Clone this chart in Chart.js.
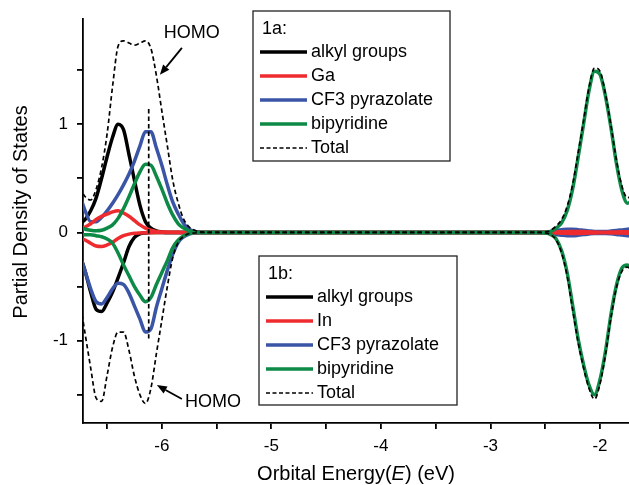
<!DOCTYPE html>
<html lang="en">
<head>
<meta charset="UTF-8">
<title>Partial Density of States – 1a / 1b</title>
<style>
  html, body { margin: 0; padding: 0; background: #fff; }
  #wrap { width: 629px; height: 485px; }
</style>
</head>
<body>
<div id="wrap"><canvas id="pdos" width="629" height="485"></canvas></div>
<script src="https://cdn.jsdelivr.net/npm/chart.js"></script>
<script>
// orbital energies (eV) shared by every series
const energy = [
  -6.75, -6.70, -6.65, -6.60, -6.55, -6.50, -6.45, -6.40, -6.35, -6.30, -6.25, -6.20,
  -6.15, -6.10, -6.05, -6.00, -5.95, -5.90, -5.85, -5.80, -5.75, -5.70, -5.65, -5.60,
  -5.50, -2.60,
  -2.55, -2.50, -2.45, -2.40, -2.35, -2.30, -2.25, -2.20, -2.15, -2.10, -2.05, -2.00,
  -1.95, -1.90, -1.85, -1.80, -1.75, -1.70
];

// 1a (upper half)
const alkyl1a = [0.08, 0.12, 0.2, 0.32, 0.5, 0.7, 0.88, 1.0, 0.95, 0.72, 0.48, 0.25,
  0.1, 0.04, 0.015, 0.005, 0, 0, 0, 0, 0, 0, 0, 0,
  0, 0,
  0, 0, 0, 0, 0, 0, 0, 0, 0, 0, 0, 0, 0, 0, 0, 0, 0, 0];
const ga1a = [0.03, 0.05, 0.08, 0.12, 0.15, 0.17, 0.19, 0.2, 0.18, 0.15, 0.11, 0.07,
  0.04, 0.02, 0.01, 0.005, 0.003, 0.002, 0.001, 0, 0, 0, 0, 0,
  0, 0,
  0, 0.001, 0.003, 0.005, 0.007, 0.008, 0.009, 0.009, 0.008, 0.006, 0.004, 0.003,
  0.003, 0.004, 0.005, 0.006, 0.007, 0.008];
const cf3_1a = [0.35, 0.2, 0.1, 0.1, 0.14, 0.2, 0.27, 0.35, 0.44, 0.54, 0.66, 0.8,
  0.93, 0.93, 0.78, 0.62, 0.44, 0.28, 0.17, 0.08, 0.03, 0.01, 0.003, 0,
  0, 0,
  0, 0.002, 0.01, 0.018, 0.025, 0.03, 0.03, 0.026, 0.02, 0.014, 0.01, 0.01,
  0.01, 0.013, 0.018, 0.024, 0.03, 0.034];
const bipy1a = [0.05, 0.03, 0.02, 0.015, 0.02, 0.04, 0.07, 0.13, 0.22, 0.33, 0.45, 0.56,
  0.63, 0.62, 0.52, 0.4, 0.27, 0.16, 0.08, 0.04, 0.015, 0.005, 0, 0,
  0, 0,
  0, 0.003, 0.01, 0.04, 0.09, 0.2, 0.4, 0.69, 1.0, 1.31, 1.49, 1.46,
  1.26, 0.97, 0.64, 0.39, 0.27, 0.3];
const total1a = [0.42, 0.33, 0.3, 0.4, 0.6, 0.91, 1.35, 1.72, 1.77, 1.75, 1.73, 1.75,
  1.77, 1.7, 1.45, 1.12, 0.8, 0.48, 0.27, 0.12, 0.05, 0.02, 0.005, 0,
  0, 0,
  0, 0.005, 0.02, 0.06, 0.12, 0.24, 0.44, 0.73, 1.03, 1.34, 1.52, 1.49,
  1.28, 0.99, 0.67, 0.43, 0.32, 0.35];

// 1b (lower half)
const alkyl1b = [-0.2, -0.36, -0.55, -0.71, -0.73, -0.65, -0.55, -0.42, -0.28, -0.13, -0.045, -0.012,
  -0.004, 0, 0, 0, 0, 0, 0, 0, 0, 0, 0, 0,
  0, 0,
  0, 0, 0, 0, 0, 0, 0, 0, 0, 0, 0, 0, 0, 0, 0, 0, 0, 0];
const in1b = [-0.05, -0.07, -0.1, -0.125, -0.13, -0.115, -0.09, -0.055, -0.03, -0.015, -0.008, -0.005,
  -0.003, -0.002, -0.001, 0, 0, 0, 0, 0, 0, 0, 0, 0,
  0, 0,
  0, -0.001, -0.003, -0.005, -0.007, -0.008, -0.009, -0.009, -0.008, -0.006, -0.004, -0.003,
  -0.003, -0.004, -0.005, -0.006, -0.007, -0.008];
const cf3_1b = [-0.2, -0.36, -0.52, -0.64, -0.66, -0.6, -0.52, -0.47, -0.48, -0.56, -0.68, -0.8,
  -0.92, -0.89, -0.69, -0.52, -0.35, -0.2, -0.09, -0.04, -0.015, -0.005, 0, 0,
  0, 0,
  0, -0.002, -0.01, -0.018, -0.025, -0.03, -0.03, -0.026, -0.02, -0.014, -0.01, -0.01,
  -0.01, -0.013, -0.018, -0.024, -0.03, -0.034];
const bipy1b = [-0.02, -0.02, -0.02, -0.03, -0.04, -0.06, -0.1, -0.19, -0.3, -0.4, -0.5, -0.58,
  -0.64, -0.6, -0.48, -0.37, -0.26, -0.14, -0.07, -0.03, -0.01, 0, 0, 0,
  0, 0,
  0, -0.005, -0.02, -0.06, -0.17, -0.37, -0.67, -0.98, -1.22, -1.41, -1.5, -1.36,
  -1.1, -0.76, -0.49, -0.33, -0.3, -0.34];
const total1b = [-0.62, -0.94, -1.25, -1.53, -1.56, -1.32, -1.06, -0.92, -0.92, -1.09, -1.33, -1.5,
  -1.58, -1.44, -1.12, -0.81, -0.5, -0.23, -0.09, -0.035, -0.01, -0.005, 0, 0,
  0, 0,
  0, -0.005, -0.02, -0.07, -0.19, -0.4, -0.71, -1.01, -1.25, -1.44, -1.54, -1.4,
  -1.13, -0.79, -0.51, -0.36, -0.32, -0.36];

// HOMO marker line
const homoEnergy = -6.12;
const homoLineY = [1.14, -0.98];

// axes
const xRange = [-6.72, -1.735];
const yRange = [-1.76, 1.97];
const xTickValues = [-6.5, -6, -5.5, -5, -4.5, -4, -3.5, -3, -2.5, -2];
const yTickValues = [-1.5, -1, -0.5, 0, 0.5, 1, 1.5];

const legendLabelsA = ['alkyl groups', 'Ga', 'CF3 pyrazolate', 'bipyridine', 'Total'];
const legendLabelsB = ['alkyl groups', 'In', 'CF3 pyrazolate', 'bipyridine', 'Total'];

// HOMO labels, in data units: text centre, arrow tail, arrow head
const homoNotes = [
  { at: [-5.726, 1.843], from: [-5.817, 1.705], to: [-6.018, 1.456] },
  { at: [-5.534, -1.567], from: [-5.817, -1.539], to: [-6.046, -1.41] }
];

const FONT = '"Liberation Sans", Arial, sans-serif';
const RED = '#ee2b2e', BLUE = '#3a55a6', GREEN = '#0d8a46', BLACK = '#000000';

function pts(ys) {
  return energy.map((e, i) => ({ x: e, y: ys[i] }));
}
function curve(ys, color, order) {
  return { data: pts(ys), borderColor: color, borderWidth: 3.5, pointRadius: 0,
    cubicInterpolationMode: 'monotone', fill: false, order: order, clip: 0 };
}
function dashed(data, order) {
  return { data: data, borderColor: BLACK, borderWidth: 1.7, borderDash: [4.5, 3],
    pointRadius: 0, cubicInterpolationMode: 'monotone', fill: false, order: order, clip: 0 };
}

function drawLegend(ctx, box, title, labels) {
  ctx.fillStyle = '#fff';
  ctx.fillRect(box.x, box.y, box.w, box.h);
  ctx.strokeStyle = '#222';
  ctx.lineWidth = 1.3;
  ctx.setLineDash([]);
  ctx.strokeRect(box.x, box.y, box.w, box.h);
  ctx.font = '18px ' + FONT;
  ctx.textBaseline = 'middle';
  ctx.textAlign = 'left';
  ctx.fillStyle = '#000';
  ctx.fillText(title, box.x + 9, box.y + 18);
  const colors = [BLACK, RED, BLUE, GREEN, null];
  labels.forEach((lab, i) => {
    const y = box.y + 41 + i * 24;
    const x0 = box.x + 7, x1 = box.x + 54;
    ctx.beginPath();
    ctx.moveTo(x0, y);
    ctx.lineTo(x1, y);
    if (colors[i]) {
      ctx.strokeStyle = colors[i];
      ctx.lineWidth = 3.5;
      ctx.setLineDash([]);
    } else {
      ctx.strokeStyle = BLACK;
      ctx.lineWidth = 1.6;
      ctx.setLineDash([4, 2.5]);
    }
    ctx.stroke();
    ctx.setLineDash([]);
    ctx.fillStyle = '#000';
    ctx.fillText(lab, box.x + 58, y);
  });
}

function drawArrow(ctx, x0, y0, x1, y1) {
  const a = Math.atan2(y1 - y0, x1 - x0);
  const len = 10, half = 4;
  const bx = x1 - len * Math.cos(a), by = y1 - len * Math.sin(a);
  ctx.strokeStyle = BLACK;
  ctx.lineWidth = 1.8;
  ctx.beginPath();
  ctx.moveTo(x0, y0);
  ctx.lineTo(bx, by);
  ctx.stroke();
  ctx.fillStyle = BLACK;
  ctx.beginPath();
  ctx.moveTo(x1, y1);
  ctx.lineTo(bx + half * Math.sin(a), by - half * Math.cos(a));
  ctx.lineTo(bx - half * Math.sin(a), by + half * Math.cos(a));
  ctx.closePath();
  ctx.fill();
}

const overlay = {
  id: 'overlay',
  afterDraw(chart) {
    const ctx = chart.ctx;
    const sx = chart.scales.x, sy = chart.scales.y;
    ctx.save();

    drawLegend(ctx, { x: 253, y: 11, w: 197, h: 150 }, '1a:', legendLabelsA);
    drawLegend(ctx, { x: 259, y: 256, w: 198, h: 149 }, '1b:', legendLabelsB);

    ctx.font = '18px ' + FONT;
    ctx.textAlign = 'center';
    ctx.textBaseline = 'middle';
    homoNotes.forEach(n => {
      ctx.fillStyle = '#000';
      ctx.fillText('HOMO', sx.getPixelForValue(n.at[0]), sy.getPixelForValue(n.at[1]));
      drawArrow(ctx, sx.getPixelForValue(n.from[0]), sy.getPixelForValue(n.from[1]),
        sx.getPixelForValue(n.to[0]), sy.getPixelForValue(n.to[1]));
    });

    // axis titles
    ctx.fillStyle = '#000';
    ctx.font = '20px ' + FONT;
    ctx.save();
    ctx.translate(21, 212);
    ctx.rotate(-Math.PI / 2);
    ctx.textAlign = 'center';
    ctx.fillText('Partial Density of States', 0, 0);
    ctx.restore();

    const parts = [['Orbital Energy(', 'normal'], ['E', 'italic'], [') (eV)', 'normal']];
    let total = 0;
    parts.forEach(p => { ctx.font = p[1] + ' 20px ' + FONT; p.push(ctx.measureText(p[0]).width); total += p[2]; });
    let x = (chart.chartArea.left + chart.chartArea.right) / 2 - total / 2;
    ctx.textAlign = 'left';
    parts.forEach(p => {
      ctx.font = p[1] + ' 20px ' + FONT;
      ctx.fillText(p[0], x, 474);
      x += p[2];
    });
    ctx.restore();
  }
};

const intLabel = v => (Math.abs(v - Math.round(v)) < 1e-9 ? String(Math.round(v)) : '');

new Chart(document.getElementById('pdos'), {
  type: 'line',
  data: {
    datasets: [
      dashed(pts(total1a), 0),
      dashed(pts(total1b), 0),
      dashed([{ x: homoEnergy, y: homoLineY[0] }, { x: homoEnergy, y: homoLineY[1] }], 0),
      curve(bipy1a, GREEN, 1),
      curve(bipy1b, GREEN, 1),
      curve(ga1a, RED, 2),
      curve(in1b, RED, 2),
      curve(cf3_1a, BLUE, 3),
      curve(cf3_1b, BLUE, 3),
      curve(alkyl1a, BLACK, 4),
      curve(alkyl1b, BLACK, 4)
    ]
  },
  options: {
    responsive: false,
    animation: false,
    layout: { padding: { left: 0, top: 18, right: 0, bottom: 0 } },
    plugins: { legend: { display: false }, tooltip: { enabled: false } },
    scales: {
      x: {
        type: 'linear',
        min: xRange[0],
        max: xRange[1],
        afterBuildTicks: s => { s.ticks = xTickValues.map(v => ({ value: v })); },
        afterFit: s => { s.height = 62; },
        grid: { drawOnChartArea: false, drawTicks: true, tickLength: 6, color: BLACK, lineWidth: 1.8 },
        border: { display: true, color: BLACK, width: 1.8 },
        ticks: { autoSkip: false, maxRotation: 0, padding: 7, color: BLACK,
          font: { family: FONT, size: 17 }, callback: intLabel }
      },
      y: {
        type: 'linear',
        min: yRange[0],
        max: yRange[1],
        afterBuildTicks: s => { s.ticks = yTickValues.map(v => ({ value: v })); },
        afterFit: s => { s.width = 83; },
        grid: { drawOnChartArea: false, drawTicks: true, tickLength: 6, color: BLACK, lineWidth: 1.8 },
        border: { display: true, color: BLACK, width: 1.8 },
        ticks: { padding: 9, color: BLACK, font: { family: FONT, size: 17 }, callback: intLabel }
      }
    }
  },
  plugins: [overlay]
});
</script>
</body>
</html>
